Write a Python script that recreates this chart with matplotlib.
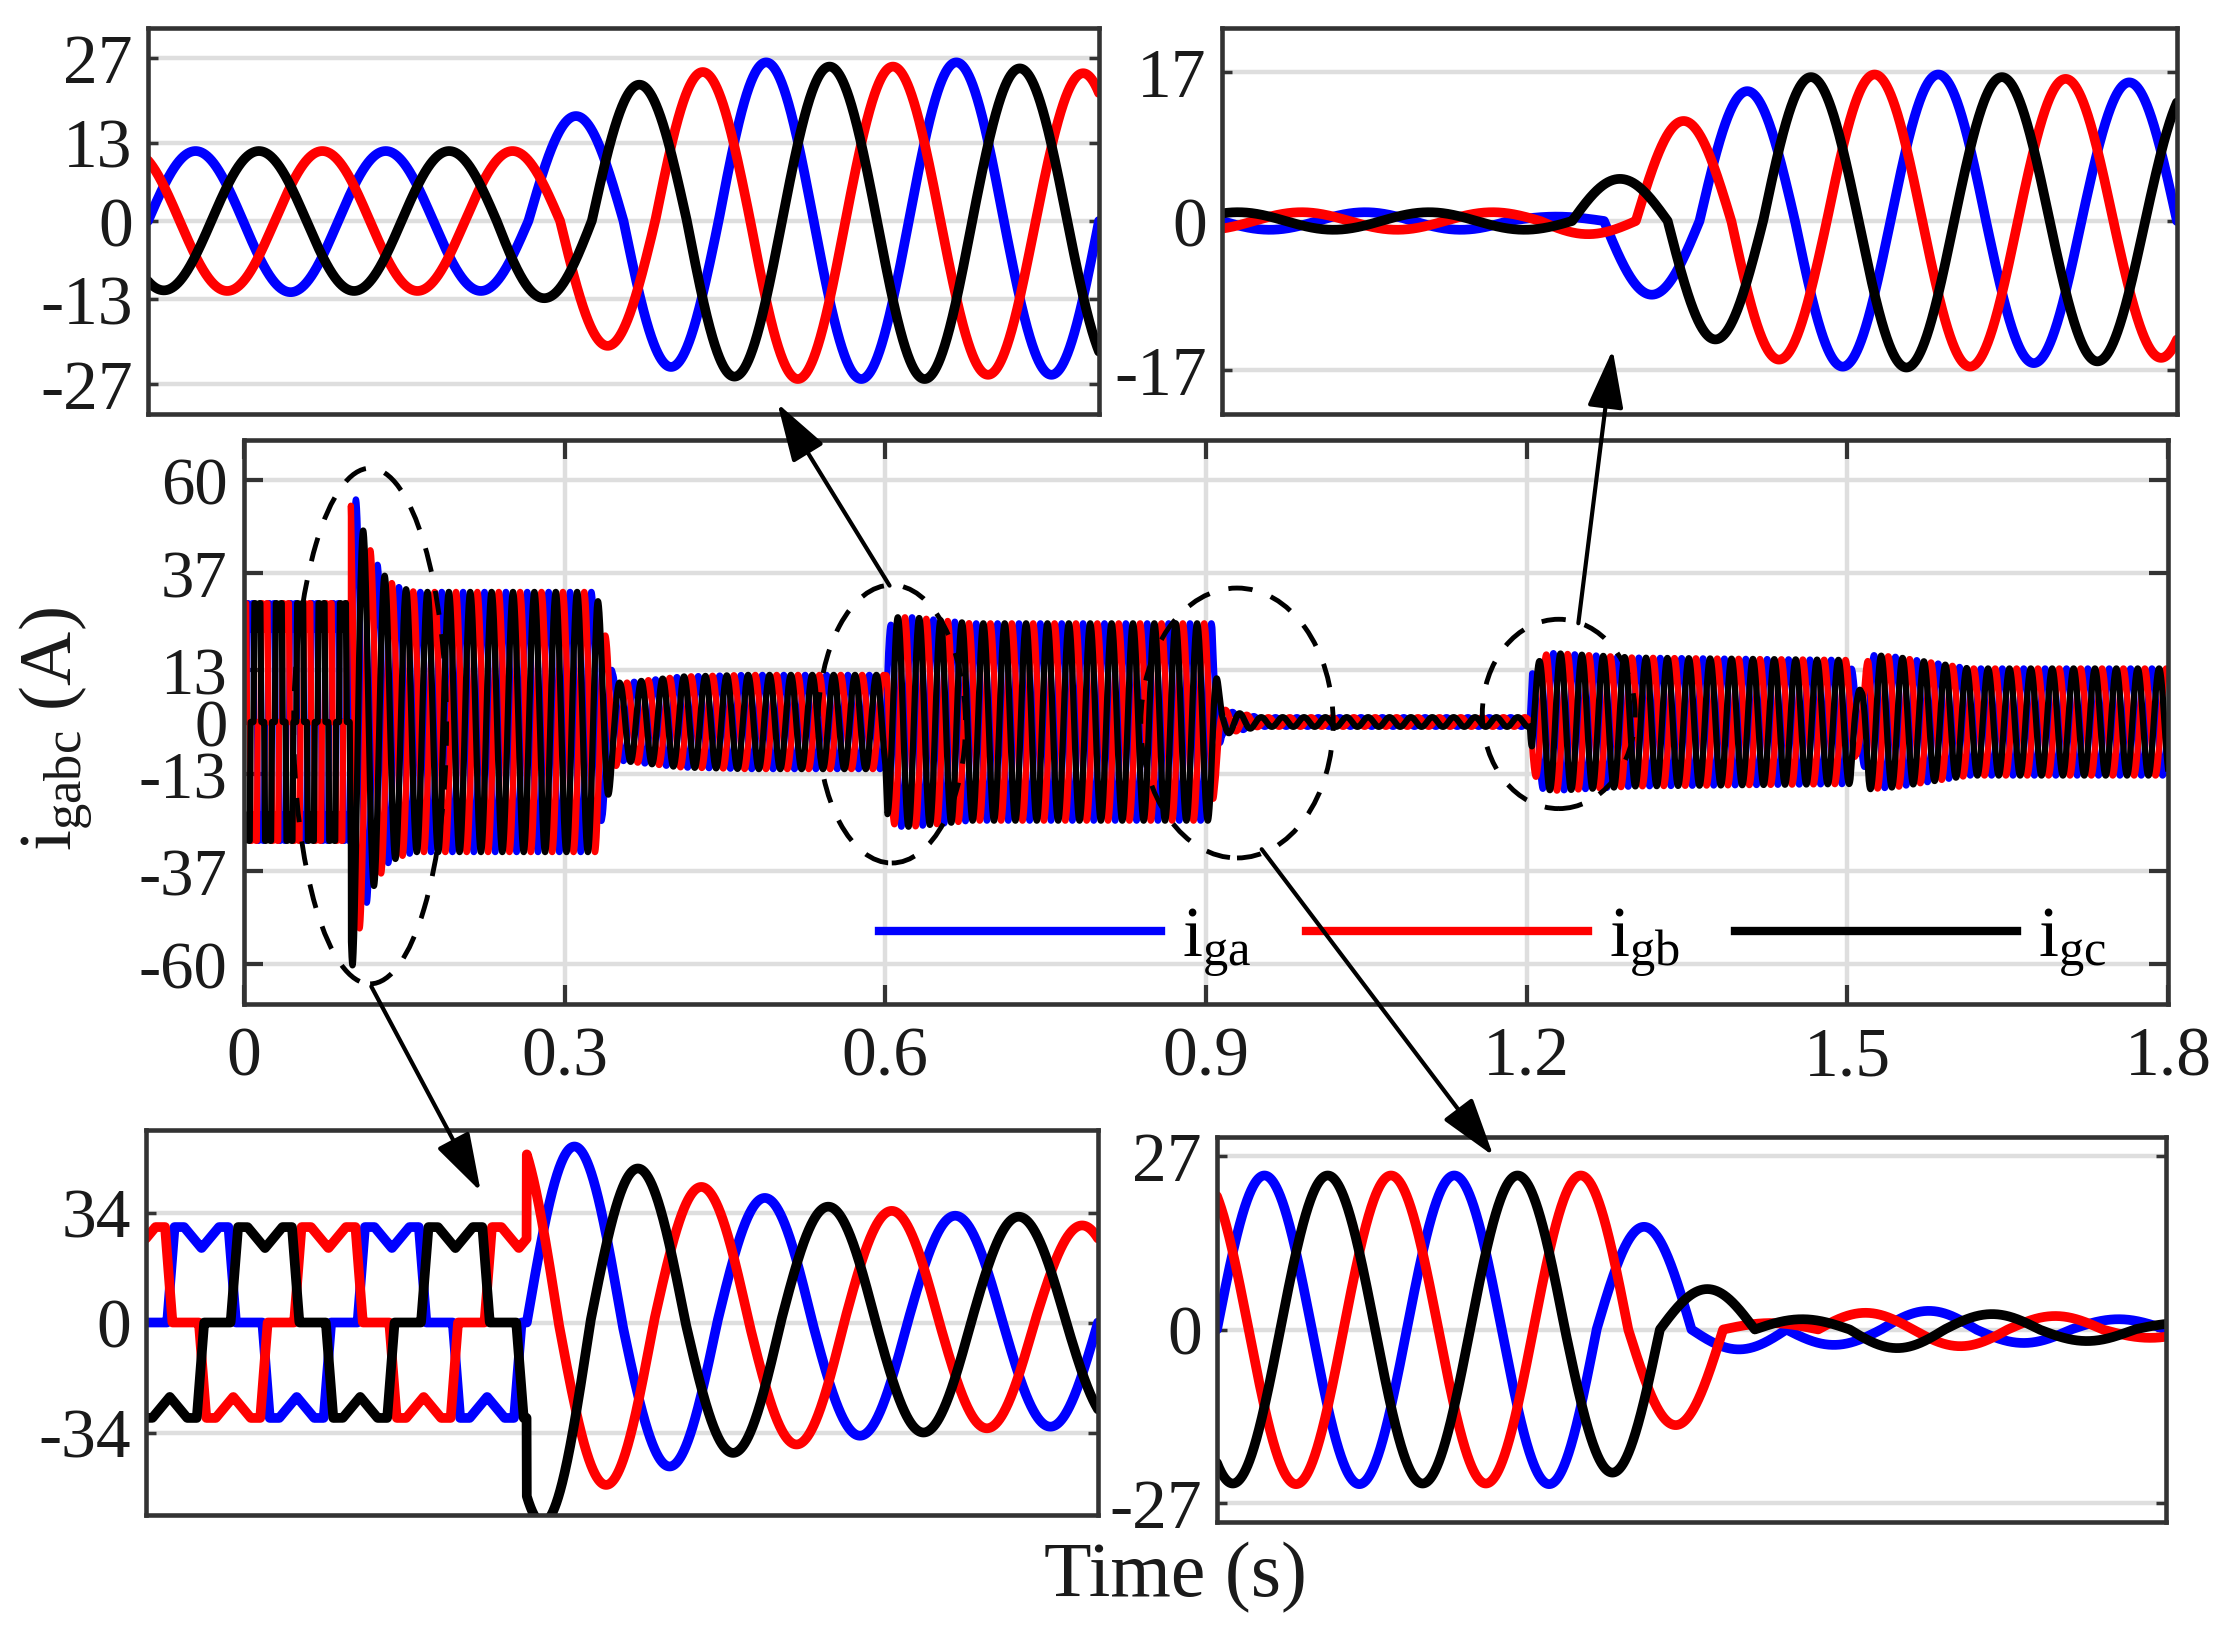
import numpy as np
import matplotlib
matplotlib.use('Agg')
import matplotlib.pyplot as plt
from matplotlib.patches import Ellipse, FancyArrowPatch
from matplotlib.lines import Line2D

plt.rcParams['font.family'] = ['Liberation Serif', 'DejaVu Serif']
plt.rcParams['mathtext.default'] = 'regular'

W, H = 2226, 1631
F = 50.0
W0 = 2 * np.pi * F
PHASE = {'a': 0.0, 'b': 2 * np.pi / 3, 'c': -2 * np.pi / 3}
SHIFT = {'a': 0.0, 'b': 120.0, 'c': -120.0}
COLORS = {'a': '#0000ff', 'b': '#ff0000', 'c': '#000000'}

# one cycle of i_ga before the 0.1 s event (degrees, A)
block_deg = [0, 40, 54, 72, 105, 138, 156, 170, 180, 220, 234, 252, 285, 318, 336, 350, 360]
block_val = [0, 0, 29.5, 29.5, 23, 29.5, 29.5, 0, 0, 0, -29.5, -29.5, -23, -29.5, -29.5, 0, 0]

# envelope of the main trace after 0.1 s (s, A)
env_t = [0.1, 0.102, 0.105, 0.111, 0.116, 0.121, 0.126, 0.135, 0.145, 0.16, 0.33, 0.335, 0.34,
         0.345, 0.352, 0.375, 0.41, 0.47, 0.6, 0.602, 0.61, 0.625, 0.68, 0.906, 0.908, 0.912,
         0.915, 0.925, 0.95, 1.203, 1.205, 1.215, 1.225, 1.3, 1.4, 1.503, 1.508, 1.513, 1.52,
         1.545, 1.614, 1.8]
env_a = [62, 60, 55, 48, 44, 41, 38.5, 35, 33.5, 32.3, 32.3, 24, 20, 12, 9.6, 10.3, 11.3, 11.7,
         11.7, 23, 26, 26, 24.5, 24.5, 17, 8, 3.3, 2.5, 1.2, 1.2, 12, 16.6, 17.1, 16, 15.7, 15.4,
         8, 8, 16.7, 16.2, 13.3, 13.3]

# half-cycle peak values per phase for each zoomed window (first half-cycle index, peaks)
tl_start = 0.56
tl_a = (56, [11.6, 11.8, 11.6, 11.6, 17.4, 24.2, 26.3, 26.2, 26.3, 25.5])
tl_b = (56, [11.6, 11.6, 11.6, 11.6, 11.6, 20.7, 24.7, 26.2, 25.6, 25.5, 24.5])
tl_c = (55, [11.5, 11.6, 11.6, 11.6, 12.8, 22.6, 25.8, 25.6, 26.2, 25.3, 25])

tr_start = 1.17
tr_a = (117, [1, 1, 1, 0.5, 8.4, 14.8, 16.6, 16.7, 16.2, 15.8])
tr_b = (117, [1, 1, 1, 1, 1.5, 11.4, 15.8, 16.7, 16.6, 16.2, 15.6])
tr_c = (116, [1, 1, 1, 1, 4.8, 13.5, 16.4, 16.7, 16.4, 16, 15.6])

bl_start = 0.06
bl_a = (10, [54.4, 44.5, 38.5, 35, 33, 32.2])
bl_b = (10, [60, 50.2, 41.9, 37.7, 34.5, 32.7, 30])
bl_c = (9, [62, 47.6, 40.3, 35.8, 34, 32.7, 31])

br_start = 0.86
br_a = (86, [24, 24.1, 24, 24.1, 16, 3.1, -2.4, -2.9, -2.1, -1.6])
br_b = (86, [24, 24.1, 24, 24, 24, 14.9, 1, -2.6, -2.6, -2.1, -1.3])
br_c = (85, [24, 24, 24, 24, 22.3, 6.3, -1.6, -2.9, -2.4, -1.8, -1])

main_yticks = [-60, -37, -13, 0, 13, 37, 60]
main_xticks = [0, 0.3, 0.6, 0.9, 1.2, 1.5, 1.8]
main_xlabels = ['0', '0.3', '0.6', '0.9', '1.2', '1.5', '1.8']


def block(t, p):
    deg = (360 * F * t + SHIFT[p]) % 360
    return np.interp(deg, block_deg, block_val)


def lobes(t, p, spec):
    n0, amps = spec
    th = W0 * t + PHASE[p]
    n = np.clip(np.floor(th / np.pi).astype(int) - n0, 0, len(amps) - 1)
    return np.asarray(amps)[n] * np.sin(th)


def style_axes(ax, lw_tick, ln_tick):
    for s in ax.spines.values():
        s.set_linewidth(3.3)
        s.set_color('#333333')
    ax.tick_params(axis='both', direction='in', width=lw_tick, length=ln_tick,
                   color='#333333', labelsize=50, labelcolor='#1a1a1a',
                   left=True, right=True)
    ax.grid(axis='y', color='#dedede', lw=3.2)
    ax.set_axisbelow(True)


fig = plt.figure(figsize=(W / 100, H / 100), dpi=100)


def fbox(l, t, r, b):
    return [l / W, 1 - b / H, (r - l) / W, (b - t) / H]


# main axes
ax = fig.add_axes(fbox(244, 441, 2168, 1005))
t = np.linspace(0, 1.8, 180001)
env = np.interp(t, env_t, env_a)
for p in 'abc':
    y = np.where(t < 0.1, block(t, p), env * np.sin(W0 * t + PHASE[p]))
    ax.plot(t, y, color=COLORS[p], lw=4.5)
ax.set_xlim(0, 1.8)
ax.set_ylim(-70, 70)
style_axes(ax, 3, 14)
ax.tick_params(axis='both', top=True, bottom=True)
ax.tick_params(axis='y', pad=12, labelsize=48)
ax.tick_params(axis='x', pad=16)
ax.grid(axis='x', color='#dedede', lw=3.2)
ax.set_yticks(main_yticks)
ax.set_yticklabels([str(v) for v in main_yticks])
ax.set_xticks(main_xticks)
ax.set_xticklabels(main_xlabels)
ax.set_ylabel(r'$i_{gabc}$ (A)', fontsize=54, color='#1a1a1a')
ax.yaxis.set_label_coords(-0.078, 0.49)

handles = [Line2D([], [], color=COLORS[p], lw=6) for p in 'abc']
ax.legend(handles, [r'$i_{ga}$', r'$i_{gb}$', r'$i_{gc}$'], ncol=3, frameon=False,
          loc='center left', bbox_to_anchor=(0.33, 0.11), fontsize=52,
          handlelength=3.9, handletextpad=0.3, columnspacing=0.75,
          borderpad=0, borderaxespad=0)

for cx, cy, w, h in [(0.118, -1, 0.143, 128), (0.606, -0.5, 0.138, 69),
                     (0.929, -0.25, 0.18, 67), (1.23, 2, 0.143, 47)]:
    ax.add_patch(Ellipse((cx, cy), w, h, fill=False, ec='black', lw=3.5,
                         ls=(0, (5, 4)), zorder=5))


def inset(box, start, specs, ylim, ticks, pre_block=None):
    a = fig.add_axes(fbox(*box))
    tt = np.linspace(start, start + 0.1, 4001)
    for p, spec in zip('abc', specs):
        y = lobes(tt, p, spec)
        if pre_block is not None:
            y = np.where(tt < pre_block, block(tt, p), y)
        a.plot(tt, y, color=COLORS[p], lw=7, solid_capstyle='round')
    a.set_xlim(start, start + 0.1)
    a.set_ylim(-ylim, ylim)
    style_axes(a, 2.5, 7)
    a.tick_params(axis='x', bottom=False, labelbottom=False)
    a.tick_params(axis='y', pad=11)
    a.set_yticks(ticks)
    a.set_yticklabels([str(v) for v in ticks])
    return a


inset((148, 29, 1099, 415), tl_start, [tl_a, tl_b, tl_c], 32, [-27, -13, 0, 13, 27])
inset((1222, 29, 2177, 415), tr_start, [tr_a, tr_b, tr_c], 22, [-17, 0, 17])
inset((146, 1131, 1098, 1516), bl_start, [bl_a, bl_b, bl_c], 59.5, [-34, 0, 34], pre_block=0.1)
inset((1217, 1138, 2166, 1523), br_start, [br_a, br_b, br_c], 30, [-27, 0, 27])

fig.text(1175 / W, 1 - 1578 / H, 'Time (s)', fontsize=56, color='#1a1a1a',
         ha='center', va='center')


def fp(x, y):
    return (x / W, 1 - y / H)


for p0, p1 in [((891, 589), (776, 402)), ((1578, 627), (1613, 348)),
               ((370, 985), (482, 1195)), ((1260, 848), (1495, 1159))]:
    fig.add_artist(FancyArrowPatch(fp(*p0), fp(*p1), transform=fig.transFigure,
                                   arrowstyle='-|>,head_length=0.9,head_width=0.28',
                                   mutation_scale=40, lw=3, color='black', zorder=10))

fig.savefig('out.png', dpi=100)
